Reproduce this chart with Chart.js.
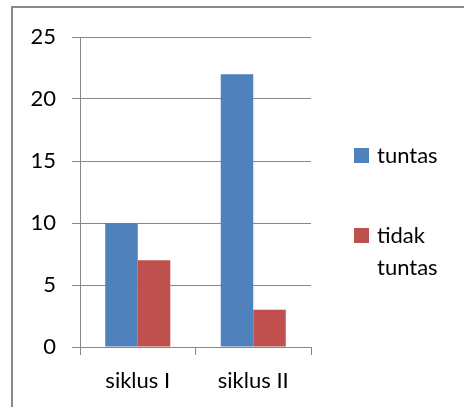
<!DOCTYPE html>
<html>
<head>
<meta charset="utf-8">
<script src="https://cdn.jsdelivr.net/npm/chart.js@4"></script>
<style>
  html, body { margin: 0; padding: 0; background: #fff; }
  #wrap { width: 464px; height: 407px; }
</style>
</head>
<body>
<div id="wrap"><canvas id="myBarChart"></canvas></div>
<script>
// data
var categories = ["siklus I", "siklus II"];
var seriesNames = ["tuntas", "tidak tuntas"];
var tuntas = [10, 22];
var tidakTuntas = [7, 3];
var yTicks = [0, 5, 10, 15, 20, 25];

var gridColor = "#868686";
var fontFamily = "Lato, 'Open Sans', sans-serif";

// outer frame + legend on the right
var frameLegend = {
  id: "frameLegend",
  beforeDraw: function (chart) {
    var c = chart.ctx;
    c.save();
    c.fillStyle = "#fff";
    c.fillRect(0, 0, chart.width, chart.height);
    c.strokeStyle = "#8a8a8a";
    c.lineWidth = 2;
    c.strokeRect(12, 7, 520, 520);
    c.restore();
  },
  afterDraw: function (chart) {
    var c = chart.ctx;
    c.save();
    c.font = "22px " + fontFamily;
    c.textBaseline = "alphabetic";
    c.textAlign = "left";
    var tops = [148, 228];
    chart.data.datasets.forEach(function (ds, i) {
      var y = tops[i];
      c.fillStyle = ds.backgroundColor;
      c.fillRect(354, y, 15, 15);
      // simple word wrap
      var words = ds.label.split(" ");
      var lines = [];
      var line = "";
      words.forEach(function (w) {
        var t = line ? line + " " + w : w;
        if (c.measureText(t).width > 80 && line) {
          lines.push(line);
          line = w;
        } else {
          line = t;
        }
      });
      lines.push(line);
      c.fillStyle = "#000";
      lines.forEach(function (l, j) {
        c.fillText(l, 377, y + 15 + j * 32);
      });
    });
    c.restore();
  }
};

var ctx = document.getElementById("myBarChart");

var myBarChart = new Chart(ctx, {
  type: "bar",
  data: {
    labels: categories,
    datasets: [
      {
        label: seriesNames[0],
        backgroundColor: "#4F81BD",
        data: tuntas
      },
      {
        label: seriesNames[1],
        backgroundColor: "#C0504D",
        data: tidakTuntas
      }
    ]
  },
  options: {
    responsive: true,
    maintainAspectRatio: false,
    animation: false,
    layout: {
      padding: { top: 37, right: 153, left: 0, bottom: 0 }
    },
    plugins: {
      legend: { display: false },
      tooltip: { enabled: false }
    },
    datasets: {
      bar: {
        categoryPercentage: 0.563,
        barPercentage: 1
      }
    },
    scales: {
      x: {
        grid: {
          offset: true,
          drawOnChartArea: false,
          drawTicks: true,
          tickLength: 8,
          color: gridColor,
          lineWidth: 1
        },
        border: { color: gridColor, width: 1 },
        ticks: {
          color: "#000",
          padding: 13,
          font: { family: fontFamily, size: 22 }
        },
        afterFit: function (scale) { scale.height = 60; }
      },
      y: {
        min: 0,
        max: 25,
        afterBuildTicks: function (scale) {
          scale.ticks = yTicks.map(function (v) { return { value: v }; });
        },
        grid: {
          color: gridColor,
          lineWidth: 1,
          drawTicks: true,
          tickLength: 8
        },
        border: { color: gridColor, width: 1 },
        ticks: {
          color: "#000",
          padding: 16,
          font: { family: fontFamily, size: 22 }
        },
        afterFit: function (scale) { scale.width = 80; }
      }
    }
  },
  plugins: [frameLegend]
});
</script>
</body>
</html>
